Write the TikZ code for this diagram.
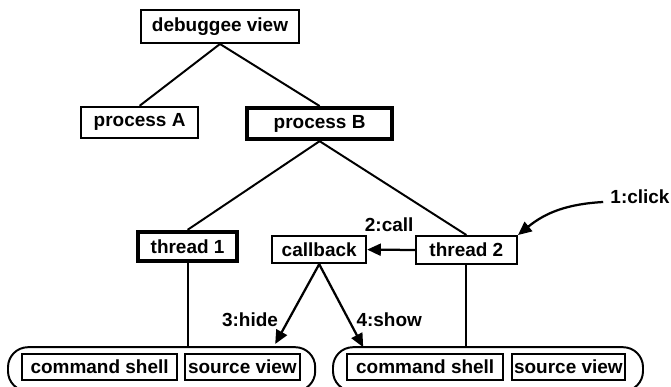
\documentclass[tikz,border=0pt]{standalone}
\usepackage{fontspec}
\setmainfont{Liberation Sans}
\usepackage{tikz}
\usetikzlibrary{arrows.meta, positioning}

\begin{document}
\begin{tikzpicture}[
    font=\fontsize{13.5}{16}\selectfont\bfseries,
    view/.style  ={rectangle, draw=black, line width=1.4pt, inner sep=0pt, align=center},
    active/.style={view, line width=2.8pt},
    window/.style={rectangle, rounded corners=0.5cm, draw=black, line width=1.4pt, minimum height=1.1cm},
    tree/.style  ={line width=1.4pt},
    msg/.style   ={-{Triangle[length=3.4mm, width=3mm]}, line width=1.6pt},
    mlabel/.style={inner sep=1pt}
]
\useasboundingbox (0,0) rectangle (16.775,-9.675);
% --- debuggee tree ---
\node[view, minimum width=3.95cm, minimum height=0.83cm]  (debuggee) at (5.50,-0.66)  {debuggee view};
\node[view, minimum width=2.93cm, minimum height=0.78cm]  (procA)    at (3.49,-3.06)  {process A};
\node[active, minimum width=3.63cm, minimum height=0.78cm] (procB)   at (7.99,-3.09)  {process B};
\node[active, minimum width=2.48cm, minimum height=0.73cm] (thread1) at (4.69,-6.16)  {thread 1};
\node[view, minimum width=2.35cm, minimum height=0.68cm]  (callback) at (7.98,-6.24)  {callback};
\node[view, minimum width=2.53cm, minimum height=0.70cm]  (thread2)  at (11.66,-6.25) {thread 2};
\draw[tree] (debuggee.south) -- (procA.north);
\draw[tree] (debuggee.south) -- (procB.north);
\draw[tree] (procB.south) -- (thread1.north);
\draw[tree] (procB.south) -- (thread2.north);

% --- thread windows ---
\node[window, minimum width=7.68cm] (lwin) at (4.04,-9.23) {};
\node[window, minimum width=7.75cm] (rwin) at (12.20,-9.23) {};
\node[view, minimum width=3.88cm, minimum height=0.65cm] (lshell)  at (2.49,-9.18)  {command shell};
\node[view, minimum width=2.88cm, minimum height=0.65cm] (lsource) at (6.06,-9.18)  {source view};
\node[view, minimum width=3.90cm, minimum height=0.65cm] (rshell)  at (10.63,-9.18) {command shell};
\node[view, minimum width=2.83cm, minimum height=0.65cm] (rsource) at (14.21,-9.18) {source view};
\draw[tree] (thread1.south) -- (thread1.south |- lwin.north);
\draw[tree] (thread2.south) -- (thread2.south |- rwin.north);

% --- event sequence ---
\node[mlabel] (click) at (16.00,-4.93) {1:click};
\coordinate (clickfrom) at (15.08,-5.05);
\draw[msg] (clickfrom) to[bend right=18] (thread2.north east);
\draw[msg] (thread2.west) -- (callback.east);
\node[mlabel] (call) at (9.73,-5.63) {2:call};
\coordinate (hidetip) at (6.88,-8.60);
\coordinate (showtip) at (9.08,-8.68);
\draw[msg] (callback.south) -- (hidetip);
\draw[msg] (callback.south) -- (showtip);
\node[mlabel] (hide) at (6.25,-8.00) {3:hide};
\node[mlabel] (show) at (9.73,-8.00) {4:show};
\end{tikzpicture}
\end{document}
